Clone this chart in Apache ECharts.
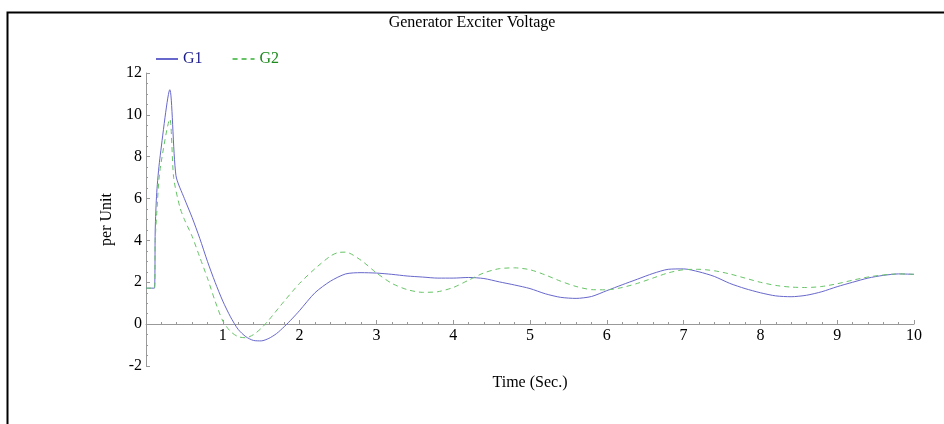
<!DOCTYPE html>
<html>
<head>
<meta charset="utf-8">
<script src="https://cdn.jsdelivr.net/npm/echarts@6/dist/echarts.min.js"></script>
<style>html,body{margin:0;padding:0;background:#fff;}#chart{width:944px;height:424px;}</style>
</head>
<body>
<div id="chart"></div>
<script>
const chartTitle = 'Generator Exciter Voltage';
const seriesNames = ['G1', 'G2'];
const yTicks = [-2, 0, 2, 4, 6, 8, 10, 12];
const xTicks = [1, 2, 3, 4, 5, 6, 7, 8, 9, 10];

const g1Time = [0, 0.11, 0.12, 0.14, 0.18, 0.31, 0.39, 0.5, 0.6, 0.7, 0.8, 0.9, 1.0, 1.1, 1.2, 1.3, 1.4, 1.5, 1.6, 1.7, 1.8, 1.9, 2.0, 2.2, 2.4, 2.6, 2.8, 3.0, 3.2, 3.4, 3.6, 3.8, 4.0, 4.2, 4.4, 4.6, 4.8, 5.0, 5.2, 5.4, 5.6, 5.8, 6.0, 6.2, 6.4, 6.6, 6.8, 7.0, 7.2, 7.4, 7.6, 7.8, 8.0, 8.2, 8.4, 8.6, 8.8, 9.0, 9.2, 9.4, 9.6, 9.8, 10.0];
const g1Value = [1.72, 1.72, 4.5, 6.3, 7.9, 11.2, 7.1, 6.0, 5.1, 4.1, 3.0, 2.0, 1.1, 0.35, -0.25, -0.6, -0.78, -0.8, -0.68, -0.45, -0.12, 0.25, 0.65, 1.5, 2.05, 2.4, 2.46, 2.44, 2.38, 2.3, 2.25, 2.2, 2.2, 2.23, 2.18, 2.02, 1.87, 1.7, 1.45, 1.28, 1.23, 1.32, 1.6, 1.88, 2.15, 2.42, 2.62, 2.64, 2.5, 2.28, 1.95, 1.7, 1.5, 1.35, 1.31, 1.38, 1.55, 1.79, 2.0, 2.2, 2.33, 2.4, 2.38];

const g2Time = [0, 0.11, 0.12, 0.14, 0.18, 0.31, 0.36, 0.44, 0.5, 0.6, 0.7, 0.8, 0.9, 1.0, 1.1, 1.2, 1.3, 1.4, 1.5, 1.6, 1.8, 2.0, 2.2, 2.4, 2.5, 2.6, 2.8, 3.0, 3.2, 3.4, 3.6, 3.8, 4.0, 4.2, 4.4, 4.6, 4.8, 5.0, 5.2, 5.4, 5.6, 5.8, 6.0, 6.2, 6.4, 6.6, 6.8, 7.0, 7.2, 7.4, 7.6, 7.8, 8.0, 8.2, 8.4, 8.6, 8.8, 9.0, 9.2, 9.4, 9.6, 9.8, 10.0];
const g2Value = [1.72, 1.72, 4.0, 5.3, 7.3, 9.8, 7.0, 5.6, 5.0, 4.2, 3.2, 2.2, 1.1, 0.15, -0.35, -0.6, -0.65, -0.5, -0.2, 0.2, 1.1, 1.95, 2.65, 3.25, 3.42, 3.44, 3.05, 2.45, 1.95, 1.65, 1.52, 1.55, 1.75, 2.1, 2.45, 2.65, 2.69, 2.6, 2.35, 2.05, 1.8, 1.65, 1.64, 1.75, 1.95, 2.2, 2.45, 2.6, 2.62, 2.55, 2.4, 2.2, 2.0, 1.85, 1.77, 1.75, 1.8, 1.93, 2.1, 2.25, 2.35, 2.4, 2.38];

const pair = (t, v) => t.map((x, i) => [x, v[i]]);
const font = '"Liberation Serif", "Times New Roman", serif';

const chart = echarts.init(document.getElementById('chart'), null, {renderer: 'canvas'});
chart.setOption({
  animation: false,
  backgroundColor: '#fff',
  title: {
    text: chartTitle, left: 'center', top: 10,
    textStyle: {fontFamily: font, fontSize: 16, fontWeight: 'normal', color: '#000'}
  },
  graphic: [{
    type: 'rect', left: 5, top: 10, silent: true,
    shape: {width: 960, height: 500},
    style: {fill: 'none', stroke: '#000', lineWidth: 2}
  }],
  legend: {
    left: 150, top: 46, itemWidth: 22, itemHeight: 10, itemGap: 29,
    itemStyle: {opacity: 0},
    data: [
      {name: seriesNames[0], textStyle: {color: '#1c1c8c'}},
      {name: seriesNames[1], textStyle: {color: '#1e8a1e'}}
    ],
    textStyle: {fontFamily: font, fontSize: 16}
  },
  grid: {left: 146, right: 30, top: 73, bottom: 58, containLabel: false, outerBoundsMode: 'none'},
  xAxis: {
    type: 'value', min: 0, max: 10, interval: 1,
    offset: -42,
    name: 'Time (Sec.)', nameLocation: 'middle', nameGap: 51, nameMoveOverlap: false,
    nameTextStyle: {fontFamily: font, fontSize: 16, color: '#000'},
    axisLine: {onZero: false, lineStyle: {color: '#999', width: 1}},
    axisTick: {show: true, inside: true, length: 4, lineStyle: {color: '#999'}},
    minorTick: {show: true, splitNumber: 5, length: 2, lineStyle: {color: '#999'}},
    splitLine: {show: false},
    axisLabel: {
      fontFamily: font, fontSize: 16, color: '#000', margin: 4,
      formatter: v => (xTicks.indexOf(v) >= 0 ? String(v) : '')
    }
  },
  yAxis: {
    type: 'value', min: -2, max: 12, interval: 2,
    name: 'per Unit', nameLocation: 'middle', nameGap: 30,
    nameTextStyle: {fontFamily: font, fontSize: 16, color: '#000'},
    axisLine: {show: true, lineStyle: {color: '#999', width: 1}},
    axisTick: {show: true, inside: true, length: 4, lineStyle: {color: '#999'}},
    minorTick: {show: true, splitNumber: 4, length: 2, lineStyle: {color: '#999'}},
    splitLine: {show: false},
    axisLabel: {
      fontFamily: font, fontSize: 16, color: '#000', margin: 4,
      formatter: v => (yTicks.indexOf(v) >= 0 ? String(v) : '')
    }
  },
  series: [
    {
      name: seriesNames[0], type: 'line', data: pair(g1Time, g1Value),
      symbol: 'none', smooth: 0.25,
      lineStyle: {color: '#6868cc', width: 1},
      itemStyle: {color: '#6868cc'}
    },
    {
      name: seriesNames[1], type: 'line', data: pair(g2Time, g2Value),
      symbol: 'none', smooth: 0.25,
      lineStyle: {color: '#66c466', width: 1, type: [5, 4]},
      itemStyle: {color: '#66c466'}
    }
  ]
});
</script>
</body>
</html>
